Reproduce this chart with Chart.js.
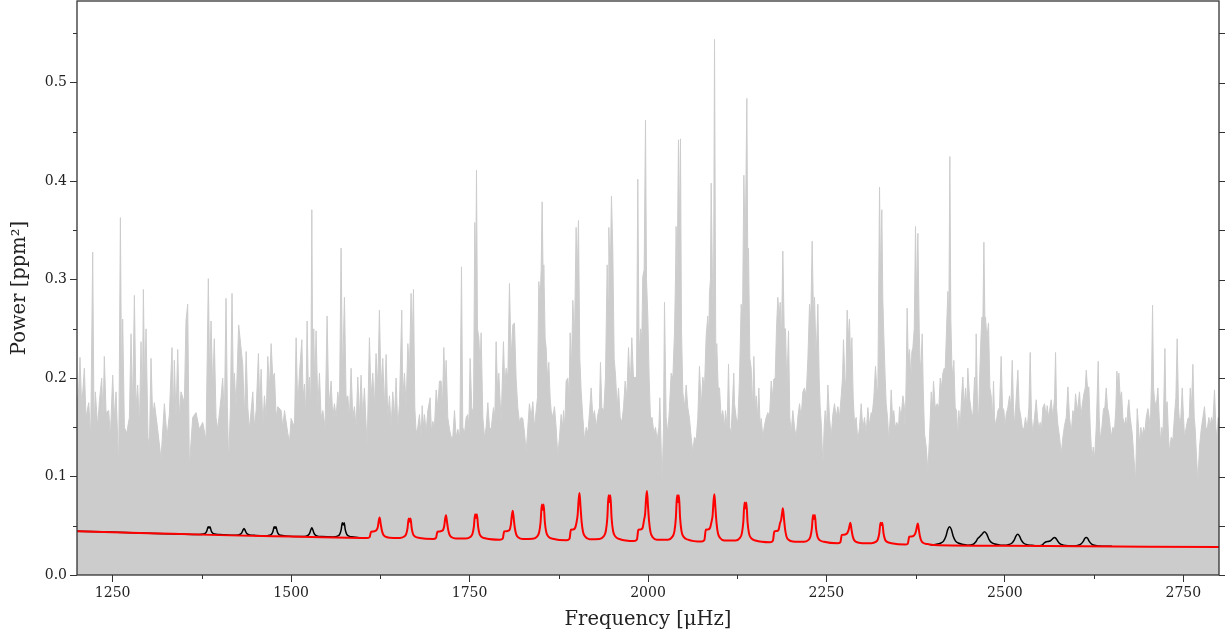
<!DOCTYPE html>
<html>
<head>
<meta charset="utf-8">
<script src="https://cdn.jsdelivr.net/npm/chart.js@4/dist/chart.umd.min.js"></script>
<style>
  html, body { margin: 0; padding: 0; background: #fff; }
  #wrap { width: 1225px; height: 635px; position: relative; }
</style>
</head>
<body>
<div id="wrap"><canvas id="psd"></canvas></div>
<script>
// axis ticks
const xTicks = [1250, 1500, 1750, 2000, 2250, 2500, 2750];
const xMinorTicks = [1375, 1625, 1875, 2125, 2375, 2625];
const yTicks = [0.0, 0.1, 0.2, 0.3, 0.4, 0.5];
const yMinorTicks = [0.05, 0.15, 0.25, 0.35, 0.45, 0.55];

// power spectrum [frequency (µHz), power (ppm^2)]
const powerSpectrum = [
  [1200,0.17],[1202.4,0.19],[1204.2,0.221],[1206.6,0.17],[1210.3,0.21],[1212.6,0.16],[1216.4,0.175],[1219.2,0.14],
  [1222,0.328],[1223.9,0.15],[1225.7,0.186],[1229,0.15],[1231.3,0.176],[1234.6,0.2],[1236.5,0.16],[1238.3,0.222],
  [1240.7,0.165],[1244.4,0.167],[1246.7,0.14],[1250,0.203],[1252.3,0.16],[1254.7,0.186],[1258.4,0.11],[1260.8,0.363],
  [1262.6,0.18],[1264,0.26],[1266.4,0.15],[1269.6,0.144],[1273.4,0.16],[1275.7,0.245],[1278,0.17],[1280.4,0.284],
  [1282.7,0.17],[1285,0.193],[1287.4,0.15],[1289.7,0.237],[1291.6,0.17],[1293,0.29],[1294.8,0.19],[1296.7,0.25],
  [1299.5,0.14],[1301.4,0.129],[1303.7,0.22],[1306,0.16],[1308.4,0.175],[1313,0.148],[1317.7,0.118],[1322.4,0.174],
  [1326.1,0.14],[1329.4,0.163],[1333.1,0.231],[1335,0.16],[1336.4,0.218],[1338.7,0.16],[1341.1,0.229],[1343.4,0.16],
  [1345.7,0.186],[1350.4,0.175],[1352.7,0.258],[1355.1,0.275],[1357.4,0.11],[1362.1,0.16],[1366.8,0.165],[1371.4,0.148],
  [1376.1,0.155],[1380.8,0.137],[1384,0.301],[1385.9,0.2],[1387.8,0.258],[1390.1,0.19],[1392.4,0.24],[1394.8,0.16],
  [1397.1,0.148],[1401.8,0.18],[1404.1,0.2],[1406.5,0.16],[1408.8,0.281],[1410.7,0.17],[1412.5,0.114],[1414.9,0.17],
  [1417.2,0.286],[1419,0.19],[1420.5,0.205],[1422.8,0.17],[1426.5,0.254],
  [1432.3,0.213],[1434.6,0.16],[1437,0.227],[1439.3,0.17],[1441.6,0.148],[1446.3,0.186],[1448.6,0.15],[1451,0.167],
  [1454.2,0.225],[1456.1,0.17],[1458,0.209],[1460.3,0.15],[1462.6,0.182],[1465,0.16],[1467.3,0.222],[1469.6,0.19],
  [1472,0.235],[1474.3,0.2],[1476.6,0.205],[1479,0.16],[1481.3,0.171],[1486,0.167],[1488.3,0.15],[1490.7,0.167],
  [1495.3,0.144],[1497.7,0.135],[1500,0.159],[1504.7,0.15],[1507,0.241],[1509.3,0.17],[1511.7,0.205],[1515,0.239],
  [1516.8,0.18],[1518.7,0.194],[1520.5,0.16],[1522.4,0.258],[1524.3,0.18],[1525.7,0.201],[1527.5,0.17],[1529,0.371],
  [1530.3,0.2],[1531.7,0.25],[1533.1,0.19],[1535,0.248],[1537.4,0.17],[1539.7,0.205],[1542,0.16],[1544.4,0.167],
  [1547.6,0.15],[1550.4,0.263],[1552.8,0.17],[1556,0.197],[1558.4,0.16],[1560.7,0.174],[1563,0.16],[1565.4,0.186],
  [1567.7,0.17],[1570,0.332],[1572,0.2],[1574.7,0.282],[1577,0.18],[1579.4,0.182],[1581.7,0.16],[1584,0.21],
  [1586.4,0.16],[1588.7,0.171],[1591,0.15],[1593.4,0.201],[1595.7,0.16],[1598,0.203],[1600.4,0.16],[1602.7,0.19],
  [1606.5,0.13],[1609.7,0.241],[1612,0.18],[1614.4,0.205],[1616.7,0.17],[1619,0.225],[1621.4,0.19],[1623.7,0.269],
  [1626,0.19],[1628.4,0.22],[1630.7,0.17],[1633.1,0.224],[1635.4,0.16],[1637.8,0.182],[1640.1,0.15],[1642.4,0.186],
  [1644.8,0.16],[1647.1,0.2],[1649.4,0.15],[1651.8,0.174],[1655,0.269],
  [1656.5,0.18],[1658.8,0.205],[1661.1,0.17],[1663.5,0.235],[1665.8,0.21],[1668.1,0.286],[1669.5,0.23],[1671.4,0.29],
  [1673.3,0.17],[1675.2,0.144],[1677.5,0.15],[1679.8,0.163],[1682.2,0.14],[1683.6,0.172],[1685.4,0.15],[1686.8,0.163],
  [1689.2,0.145],[1691.5,0.167],[1694.8,0.18],[1696.6,0.145],[1698.5,0.156],[1700.8,0.15],[1703.2,0.188],[1705.5,0.17],
  [1707.8,0.197],[1710.2,0.197],[1712,0.17],[1713.9,0.231],[1715.8,0.19],[1717.2,0.218],[1719.5,0.16],[1721.9,0.148],
  [1724.2,0.14],[1726.5,0.14],[1728.9,0.167],[1731.2,0.14],[1733.5,0.148],[1736.3,0.14],[1738.7,0.313],[1740.5,0.15],
  [1742.9,0.144],[1745.2,0.16],[1747.5,0.163],[1749,0.15],[1750.8,0.22],[1753.1,0.17],[1755.5,0.163],[1757.3,0.358],
  [1758.7,0.3],[1759.7,0.411],[1761.1,0.25],[1763,0.241],[1764.8,0.21],[1766.2,0.246],[1768.6,0.16],[1770.9,0.14],
  [1773.2,0.15],[1775.6,0.175],[1777.9,0.15],[1780.2,0.148],[1783.5,0.17],[1785.4,0.16],[1787.2,0.237],[1789.1,0.19],
  [1791,0.205],[1794.2,0.155],[1797.5,0.237],[1799.4,0.19],[1801.2,0.21],[1803.6,0.2],[1805.9,0.296],[1808.2,0.22],
  [1810.6,0.254],[1812.9,0.256],[1815.2,0.2],[1817.6,0.17],[1819.9,0.155],[1822.3,0.16],[1824.6,0.159],[1826.9,0.145],
  [1829.3,0.125],[1831.6,0.15],[1833.9,0.174],[1836.3,0.16],[1838.6,0.176],[1841,0.15],[1843.3,0.167],[1845.1,0.18],
  [1847,0.298],[1848.9,0.28],[1850.3,0.31],[1851.7,0.379],[1853.1,0.3],[1854,0.315],[1855.9,0.24],[1857.3,0.231],
  [1859.1,0.2],[1861,0.216],[1862.9,0.18],[1864.3,0.167],[1866.6,0.16],[1869,0.171],[1871.3,0.15],[1873.6,0.121],
  [1876,0.14],[1878.3,0.163],[1880.6,0.15],[1881.6,0.167],[1883.4,0.15],[1885.3,0.197],
  [1887.7,0.2],[1889.5,0.18],[1890.9,0.246],[1892.8,0.21],[1894.7,0.279],[1897,0.24],[1899.3,0.353],[1900.7,0.3],
  [1902.6,0.36],[1904.5,0.22],[1906.4,0.186],[1908.7,0.16],[1911,0.137],[1913.4,0.15],[1915.7,0.144],[1918,0.165],
  [1920.4,0.19],[1922.7,0.16],[1925,0.167],[1927.4,0.15],[1929.7,0.163],[1932,0.17],[1933.4,0.216],[1935.3,0.17],
  [1938.1,0.167],[1940.4,0.2],[1942.8,0.315],[1944.2,0.28],[1945.1,0.353],[1947,0.3],[1948.8,0.385],[1950.7,0.33],
  [1952.6,0.22],[1954.5,0.203],[1956.8,0.17],[1958.7,0.19],[1961,0.16],[1963.3,0.155],[1965.7,0.17],[1968,0.197],
  [1970.3,0.18],[1972.7,0.231],[1975,0.19],[1977.3,0.241],[1979.7,0.2],[1982,0.201],[1983.9,0.2],[1985.7,0.402],
  [1987.6,0.22],[1989.5,0.25],[1991.3,0.24],[1992.7,0.303],[1994.6,0.31],[1996.5,0.462],[1997.9,0.3],[1999.8,0.262],
  [2001.6,0.2],[2003.5,0.159],[2005.8,0.16],[2008.2,0.144],[2010.5,0.15],[2012.8,0.137],[2015.2,0.15],[2016.6,0.18],
  [2018.4,0.13],[2019.8,0.095],[2021.7,0.15],[2023.1,0.277],[2025.4,0.16],[2027.8,0.144],[2030.1,0.17],[2032.4,0.205],
  [2034.8,0.2],[2037.1,0.246],[2038.5,0.3],[2039.4,0.354],[2040.8,0.3],[2042.7,0.442],[2044.1,0.35],[2045.5,0.443],
  [2046.9,0.25],[2048.8,0.186],[2051.1,0.17],[2053.5,0.193],[2055.8,0.17],[2058.1,0.159],[2060.5,0.14],[2062.8,0.125],
  [2065.1,0.14],[2067.5,0.137],[2069.8,0.16],[2072.1,0.212],[2074.5,0.17],[2076.8,0.201],[2079.1,0.19],[2081.5,0.243],
  [2083.8,0.263],[2085.2,0.24],[2086.1,0.286],[2087.5,0.3],[2088.5,0.398],[2090.3,0.3],[2091.7,0.25],[2093.2,0.544],
  [2095,0.22],[2096.4,0.235],[2098.3,0.19],[2100.2,0.19],[2102.5,0.16],[2104.8,0.167],[2107.2,0.15],[2108.6,0.167],
  [2110.9,0.15],[2112.8,0.214],[2114.6,0.15],[2116.5,0.144],[2120.2,0.205],
  [2121.2,0.174],[2123.5,0.16],[2125.9,0.155],[2128.2,0.2],[2130.5,0.275],[2132.4,0.26],[2134.3,0.406],[2136.2,0.33],
  [2138.5,0.484],[2139.9,0.3],[2140.8,0.332],[2142.7,0.22],[2144.6,0.21],[2146.4,0.17],[2148.3,0.222],[2150.2,0.17],
  [2151.6,0.182],[2153.4,0.16],[2155.3,0.19],[2157.2,0.15],[2158.6,0.159],[2160.9,0.14],[2163.2,0.152],[2165.6,0.16],
  [2167.9,0.165],[2170.2,0.16],[2172.6,0.197],[2174.4,0.18],[2176.3,0.199],[2178.2,0.2],[2180,0.25],[2181.9,0.282],
  [2183.8,0.26],[2185.2,0.277],[2187,0.24],[2188.9,0.329],[2190.8,0.25],[2192.7,0.25],[2194.5,0.19],[2196.9,0.248],
  [2198.7,0.16],[2200.6,0.144],[2202.9,0.167],[2205.3,0.15],[2207.6,0.14],[2209.9,0.16],[2212.3,0.174],[2214.6,0.16],
  [2217,0.186],[2219.3,0.19],[2221.6,0.182],[2224,0.22],[2226.3,0.275],[2228.1,0.26],[2230,0.339],[2231.9,0.26],
  [2233.3,0.282],[2235.6,0.22],[2238,0.275],[2239.8,0.2],[2241.2,0.171],[2243.1,0.15],[2245,0.11],[2246.8,0.15],
  [2248.2,0.167],[2250.1,0.15],[2252,0.193],[2254.3,0.16],[2256.6,0.14],[2259,0.163],[2261.3,0.174],[2263.6,0.16],
  [2266,0.171],[2268.3,0.16],[2270.7,0.182],[2272.5,0.2],[2273.9,0.239],[2275.8,0.2],[2277.2,0.19],[2279,0.269],
  [2280.9,0.24],[2282.3,0.26],[2284.2,0.21],[2285.6,0.241],[2287.5,0.18],[2289.3,0.155],[2291.7,0.16],[2294,0.136],
  [2296.3,0.15],[2298.7,0.174],[2301,0.148],[2303.3,0.16],[2305.7,0.144],[2308,0.17],[2310.3,0.152],[2312.7,0.165],
  [2314.1,0.163],[2316.4,0.18],[2318.7,0.212],[2320.6,0.19],[2322,0.186],[2324.4,0.394],[2325.8,0.3],[2327.6,0.371],
  [2329,0.28],[2330.4,0.243],[2332.3,0.2],[2333.7,0.174],[2335.6,0.16],[2337.4,0.136],[2339.3,0.16],[2340.7,0.188],
  [2342.6,0.16],[2344.4,0.167],[2346.3,0.15],[2348.6,0.155],
  [2351,0.15],[2352.4,0.171],[2354.7,0.16],[2357.1,0.182],[2359.4,0.17],[2360.3,0.144],[2361.7,0.2],[2363.1,0.271],
  [2364.5,0.22],[2366.4,0.229],[2368.3,0.2],[2369.7,0.227],[2371.1,0.231],[2373,0.25],[2374.8,0.354],[2376.2,0.28],
  [2378.1,0.347],[2380,0.25],[2381.4,0.208],[2382.8,0.22],[2384.2,0.245],[2385.6,0.19],[2387.4,0.144],[2389.8,0.13],
  [2392.1,0.106],[2394.4,0.14],[2396.8,0.186],[2398.6,0.17],[2400,0.197],[2402.4,0.17],[2405.2,0.174],[2407.5,0.17],
  [2409.4,0.2],[2411.2,0.19],[2413.1,0.205],[2415,0.21],[2416.4,0.209],[2418.3,0.25],[2420.1,0.288],[2421.5,0.26],
  [2422.9,0.425],[2424.3,0.26],[2425.7,0.214],[2427.1,0.2],[2428.5,0.218],[2430.4,0.17],[2432.3,0.167],[2434.1,0.14],
  [2435.5,0.167],[2437.4,0.15],[2439.3,0.18],[2441.1,0.201],[2443,0.17],[2444.9,0.19],[2446.7,0.17],[2448.1,0.21],
  [2450.5,0.18],[2452.8,0.167],[2455.1,0.16],[2457.5,0.201],[2458.9,0.18],[2459.8,0.245],[2461.7,0.17],[2463.1,0.159],
  [2465,0.21],[2466.4,0.24],[2467.8,0.262],[2469.2,0.26],[2470.6,0.338],[2472,0.26],[2472.9,0.262],[2474.8,0.24],
  [2477.1,0.256],[2479,0.19],[2480.8,0.182],[2482.7,0.16],[2484.1,0.197],[2485.5,0.16],[2486.9,0.152],[2488.8,0.16],
  [2490.2,0.167],[2492.5,0.17],[2494.8,0.222],[2496.7,0.17],[2498.6,0.167],[2500.4,0.15],[2501.8,0.163],[2504.2,0.17],
  [2506.5,0.182],[2508.4,0.17],[2510.3,0.218],[2512.1,0.17],[2513.5,0.152],[2515.9,0.18],[2518.2,0.208],[2520.1,0.17],
  [2521.9,0.163],[2524.3,0.15],[2526.6,0.148],[2528.9,0.16],[2531.3,0.148],[2533.6,0.17],[2535.5,0.226],[2537.3,0.16],
  [2539.2,0.144],[2541.5,0.16],[2543.9,0.178],[2545.7,0.16],[2547.6,0.148],[2549.5,0.155],[2550.9,0.144],[2553.2,0.17],
  [2555.6,0.174],[2557.9,0.16],[2559.3,0.172],[2561.2,0.16],[2562.6,0.167],[2564.9,0.178],[2567.2,0.16],[2569.6,0.18],
  [2571,0.226],[2572.4,0.17],[2574.2,0.153],[2576.6,0.14],[2578.9,0.123],
  [2581.3,0.14],[2583.6,0.152],[2586,0.16],[2588.3,0.191],[2590.6,0.16],[2593,0.144],[2595.3,0.167],[2597.2,0.16],
  [2599,0.184],[2600.9,0.17],[2602.3,0.171],[2604.6,0.186],[2606.5,0.16],[2608.4,0.173],[2610.7,0.184],[2612.6,0.19],
  [2614,0.208],[2615.8,0.19],[2617.7,0.191],[2619.6,0.15],[2621.9,0.118],[2623.8,0.13],[2625.6,0.118],[2628,0.15],
  [2630.8,0.217],[2632.2,0.16],[2633.6,0.137],[2635.9,0.15],[2638.2,0.169],[2640.1,0.17],[2642,0.19],[2643.8,0.17],
  [2645.7,0.163],[2647.6,0.15],[2649,0.14],[2651.3,0.15],[2653.7,0.148],[2655.5,0.17],[2656.9,0.207],[2658.3,0.19],
  [2659.7,0.205],[2661.6,0.18],[2663.5,0.186],[2665.3,0.16],[2667.7,0.152],[2669.5,0.16],[2670.9,0.15],[2672.3,0.17],
  [2673.7,0.178],[2675.6,0.16],[2678.4,0.144],[2680.7,0.12],[2683.1,0.095],[2685.4,0.169],[2687.3,0.15],[2688.7,0.133],
  [2690.5,0.15],[2692.4,0.14],[2694.3,0.15],[2696.2,0.144],[2698,0.16],[2700.4,0.169],[2702.2,0.16],[2703.6,0.144],
  [2705.5,0.2],[2706.9,0.274],[2708.3,0.19],[2709.7,0.178],[2712,0.17],[2714.4,0.19],[2716.2,0.16],[2718.1,0.136],
  [2720,0.15],[2721.4,0.14],[2722.8,0.18],[2724.2,0.23],[2725.6,0.17],[2727.4,0.176],[2729.3,0.14],[2730.7,0.125],
  [2733,0.14],[2735.4,0.137],[2737.7,0.163],[2739.6,0.18],[2741.4,0.24],[2743.3,0.17],[2744.7,0.155],[2746.6,0.16],
  [2748.5,0.19],[2750.3,0.16],[2751.7,0.14],[2754.1,0.15],[2756.4,0.159],[2758.3,0.16],[2759.7,0.19],[2761.5,0.17],
  [2763.4,0.214],[2765.3,0.16],[2766.7,0.148],[2768.5,0.12],[2770.4,0.095],[2772.7,0.13],[2775.1,0.148],[2777.4,0.16],
  [2779.7,0.171],[2781.6,0.15],[2783.5,0.148],[2785.8,0.16],[2787.7,0.152],[2789.5,0.16],[2791.4,0.155],[2793.7,0.188],
  [2795.6,0.15],[2797,0.138],[2798.9,0.16],[2800,0.15]
];

// full model (black): background + all modes, only visible outside the fitted range
const blackModel = [
  [1200,0.0445],[1300,0.0425],
  [1371,0.0411],[1377,0.0416],[1380,0.0426],[1382,0.0449],[1383.7,0.049],[1385,0.0478],[1386.3,0.049],[1388,0.0449],[1390,0.0426],[1393,0.0416],[1399,0.0411],
  [1420,0.0403],[1426,0.0407],[1429,0.0415],[1431,0.0431],[1432.5,0.0455],[1434,0.0473],[1435.5,0.0455],[1437,0.0431],[1439,0.0415],[1442,0.0407],[1448,0.0403],
  [1463.5,0.0397],[1469.5,0.0403],[1472.5,0.0414],[1474.5,0.0442],[1476.2,0.049],[1477.5,0.0475],[1478.8,0.049],[1480.5,0.0442],[1482.5,0.0414],[1485.5,0.0403],[1491.5,0.0397],
  [1515,0.039],[1521,0.0395],[1524,0.0405],[1526,0.0425],[1527.5,0.0457],[1529,0.048],[1530.5,0.0457],[1532,0.0425],[1534,0.0405],[1537,0.0395],[1543,0.039],
  [1559,0.0386],[1565,0.0395],[1568,0.0413],[1570,0.0455],[1571.7,0.053],[1573,0.0508],[1574.3,0.053],[1576,0.0455],[1578,0.0413],[1581,0.0395],[1587,0.0386],
  [1600,0.0376],[2000,null],[2395,0.0306],
  [2402.5,0.031],[2410.5,0.0325],[2414.5,0.035],[2417.5,0.0397],[2420,0.0462],[2422.5,0.049],[2425,0.0462],[2427.5,0.0397],[2430.5,0.035],[2434.5,0.0325],[2442.5,0.031],
  [2448,0.0302],[2455,0.031],[2459,0.0335],[2462,0.037],[2465,0.039],[2468,0.0415],[2471.5,0.044],[2474.5,0.0418],[2477.5,0.0365],[2481,0.0331],[2486,0.0315],[2494,0.0303],
  [2498,0.0301],[2506,0.031],[2510,0.0325],[2513,0.0355],[2515.5,0.0395],[2518,0.0413],[2520.5,0.0395],[2523,0.0355],[2526,0.0325],[2530,0.031],[2538,0.0301],
  [2545,0.0295],[2552,0.0302],[2555,0.0325],[2558,0.0338],[2562,0.0342],[2565,0.0355],[2567.5,0.0372],[2569.5,0.038],[2571.5,0.0372],[2574,0.0345],[2577,0.0318],[2582,0.0303],[2590,0.0296],
  [2596,0.0295],[2603,0.0302],[2607,0.0318],[2610,0.0345],[2612,0.0372],[2614,0.038],[2616,0.0372],[2618,0.0345],[2621,0.0318],[2625,0.0302],[2632,0.0295],
  [2650,0.0291]
];

// fitted model (red): background + fitted modes
const redModel = [
  [1200,0.0445],[1300,0.0425],[1400,0.0405],[1500,0.039],[1600,0.0376],
  [1606,0.0375],[1610,0.0385],[1612,0.044],[1615,0.0442],[1618,0.0448],[1620,0.046],[1621.5,0.0489],[1622.8,0.0552],[1624,0.0583],[1625.5,0.052],[1627,0.0457],[1629,0.0411],[1632,0.039],[1638,0.0379],
  [1652,0.0376],[1658,0.0389],[1661,0.0413],[1663,0.0471],[1664.7,0.0573],[1666,0.0542],[1667.3,0.0573],[1669,0.0471],[1671,0.0413],[1674,0.0389],[1680,0.0376],
  [1699,0.0366],[1703,0.0378],[1705,0.044],[1708,0.0442],[1711,0.0448],[1713,0.046],[1714.5,0.0498],[1715.8,0.0571],[1717,0.0607],[1718.5,0.0534],[1720,0.0461],[1722,0.0408],[1725,0.0383],[1731,0.0371],
  [1745,0.0371],[1751,0.0387],[1754,0.0417],[1756,0.0489],[1757.7,0.0617],[1759,0.0579],[1760.3,0.0617],[1762,0.0489],[1764,0.0417],[1767,0.0387],[1773,0.0371],
  [1792.5,0.0359],[1796.5,0.037],[1798.5,0.0443],[1801.5,0.0445],[1804.5,0.045],[1806.5,0.0465],[1808,0.052],[1809.3,0.0609],[1810.5,0.0653],[1812,0.0564],[1813.5,0.0475],[1815.5,0.041],[1818.5,0.0381],[1824.5,0.0366],
  [1838.5,0.0369],[1844.5,0.039],[1847.5,0.0434],[1849.5,0.0536],[1851.2,0.0717],[1852.5,0.0663],[1853.8,0.0717],[1855.5,0.0536],[1857.5,0.0434],[1860.5,0.039],[1866.5,0.0369],
  [1886,0.0352],[1890,0.0368],[1892,0.046],[1895,0.0463],[1898,0.048],[1900,0.054],[1901.5,0.0616],[1902.8,0.0761],[1904,0.0833],[1905.5,0.0688],[1907,0.0543],[1909,0.0437],[1912,0.0389],[1918,0.0364],
  [1932,0.0366],[1938,0.0393],[1941,0.0449],[1943,0.0579],[1944.7,0.081],[1946,0.0741],[1947.3,0.081],[1949,0.0579],[1951,0.0449],[1954,0.0393],[1960,0.0366],
  [1980.5,0.0345],[1984.5,0.0361],[1986.5,0.046],[1989.5,0.0463],[1992.5,0.048],[1994.5,0.056],[1996,0.0624],[1997.3,0.0777],[1998.5,0.0853],[2000,0.07],[2001.5,0.0547],[2003.5,0.0435],[2006.5,0.0384],[2012.5,0.0358],
  [2028,0.0359],[2034,0.0387],[2037,0.0443],[2039,0.0575],[2040.7,0.081],[2042,0.074],[2043.3,0.081],[2045,0.0575],[2047,0.0443],[2050,0.0387],[2056,0.0359],
  [2075,0.0339],[2079,0.0355],[2081,0.046],[2084,0.0463],[2087,0.048],[2089,0.054],[2090.5,0.0603],[2091.8,0.0748],[2093,0.082],[2094.5,0.0675],[2096,0.053],[2098,0.0424],[2101,0.0376],[2107,0.0351],
  [2122.5,0.035],[2128.5,0.0374],[2131.5,0.0423],[2133.5,0.0536],[2135.2,0.0737],[2136.5,0.0677],[2137.8,0.0737],[2139.5,0.0536],[2141.5,0.0423],[2144.5,0.0374],[2150.5,0.035],
  [2171,0.0332],[2175,0.0348],[2177,0.0443],[2180,0.0446],[2183,0.046],[2185,0.0527],[2186.5,0.056],[2187.8,0.0625],[2189,0.0677],[2190.5,0.0573],[2192,0.0469],[2194,0.0392],[2197,0.0358],[2203,0.034],
  [2218.5,0.0337],[2224.5,0.0354],[2227.5,0.0388],[2229.5,0.0468],[2231.2,0.061],[2232.5,0.0567],[2233.8,0.061],[2235.5,0.0468],[2237.5,0.0388],[2240.5,0.0354],[2246.5,0.0337],
  [2265.5,0.0322],[2269.5,0.0332],[2271.5,0.0407],[2274.5,0.041],[2277.5,0.0415],[2279.5,0.043],[2281,0.0457],[2282.3,0.0498],[2283.5,0.053],[2285,0.0467],[2286.5,0.0404],[2288.5,0.0358],[2291.5,0.0337],[2297.5,0.0326],
  [2313,0.0323],[2319,0.0336],[2322,0.0362],[2324,0.0422],[2325.7,0.053],[2327,0.0508],[2328.3,0.053],[2330,0.0422],[2332,0.0362],[2335,0.0336],[2341,0.0323],
  [2360,0.031],[2364,0.0318],[2366,0.039],[2369,0.0392],[2372,0.0397],[2374,0.0415],[2375.5,0.0447],[2376.8,0.0491],[2378,0.0523],[2379.5,0.0459],[2381,0.0394],[2383,0.0347],[2386,0.0325],[2392,0.0314],
  [2400,0.0305],[2500,0.0297],[2600,0.0292],[2700,0.0288],[2800,0.0285]
];

const toXY = pairs => pairs.map(p => ({ x: p[0], y: p[1] }));

// frame round the plot + minor ticks + right-hand ticks
const frameTicks = {
    id: 'frameTicks',
    afterDatasetsDraw(chart) {
        const { ctx, chartArea: a, scales } = chart;
        const x = scales.x, y = scales.y;
        ctx.save();
        ctx.strokeStyle = '#333';
        ctx.lineWidth = 1;
        ctx.beginPath();
        xMinorTicks.forEach(v => {
            const px = Math.round(x.getPixelForValue(v)) + 0.5;
            ctx.moveTo(px, a.bottom);
            ctx.lineTo(px, a.bottom + 4);
        });
        yMinorTicks.forEach(v => {
            const py = Math.round(y.getPixelForValue(v)) + 0.5;
            ctx.moveTo(a.left - 4, py);
            ctx.lineTo(a.left, py);
        });
        yTicks.concat(yMinorTicks).forEach(v => {
            const py = Math.round(y.getPixelForValue(v)) + 0.5;
            ctx.moveTo(a.right, py);
            ctx.lineTo(a.right + 6, py);
        });
        ctx.stroke();
        ctx.lineWidth = 1.3;
        ctx.strokeRect(a.left, a.top, a.right - a.left, a.bottom - a.top);
        ctx.restore();
    }
};

const serif = '"DejaVu Serif", "Liberation Serif", serif';

new Chart(document.getElementById('psd'), {
    type: 'line',
    data: {
        datasets: [
            {
                label: 'Fit',
                data: toXY(redModel),
                borderColor: '#ff0000',
                borderWidth: 2,
                pointRadius: 0,
                cubicInterpolationMode: 'monotone',
                fill: false,
                order: 0
            },
            {
                label: 'Model',
                data: toXY(blackModel),
                borderColor: '#000000',
                borderWidth: 1.5,
                pointRadius: 0,
                cubicInterpolationMode: 'monotone',
                fill: false,
                spanGaps: false,
                order: 1
            },
            {
                label: 'Spectrum',
                data: toXY(powerSpectrum),
                borderColor: '#cccccc',
                backgroundColor: '#cccccc',
                borderWidth: 1,
                pointRadius: 0,
                tension: 0,
                fill: 'origin',
                order: 2
            }
        ]
    },
    options: {
        responsive: true,
        maintainAspectRatio: false,
        animation: false,
        events: [],
        layout: { padding: { top: 1, right: 6, left: 0, bottom: 0 } },
        plugins: {
            legend: { display: false },
            tooltip: { enabled: false }
        },
        scales: {
            x: {
                type: 'linear',
                min: 1200,
                max: 2800,
                afterBuildTicks: scale => { scale.ticks = xTicks.map(v => ({ value: v })); },
                afterFit: scale => {
                    scale.height = 60;
                    scale.paddingLeft = 0;
                    scale.paddingRight = 0;
                },
                border: { display: false },
                grid: { drawOnChartArea: false, drawTicks: true, tickLength: 7, tickColor: '#333', tickWidth: 1 },
                ticks: {
                    padding: 3,
                    color: '#222',
                    font: { family: serif, size: 14 },
                    maxRotation: 0,
                    callback: v => String(v)
                },
                title: {
                    display: true,
                    text: 'Frequency [\u03bcHz]',
                    color: '#222',
                    font: { family: serif, size: 19.5 },
                    padding: { top: 0, bottom: 3 }
                }
            },
            y: {
                min: 0,
                max: 0.583,
                afterBuildTicks: scale => { scale.ticks = yTicks.map(v => ({ value: v })); },
                afterFit: scale => {
                    scale.width = 77;
                    scale.paddingTop = 0;
                    scale.paddingBottom = 0;
                },
                border: { display: false },
                grid: { drawOnChartArea: false, drawTicks: true, tickLength: 7, tickColor: '#333', tickWidth: 1 },
                ticks: {
                    padding: 3,
                    color: '#222',
                    font: { family: serif, size: 14 },
                    callback: v => v.toFixed(1)
                },
                title: {
                    display: true,
                    text: 'Power [ppm\u00b2]',
                    color: '#222',
                    font: { family: serif, size: 19.5 },
                    padding: { top: 8, bottom: 0 }
                }
            }
        }
    },
    plugins: [frameTicks]
});
</script>
</body>
</html>
